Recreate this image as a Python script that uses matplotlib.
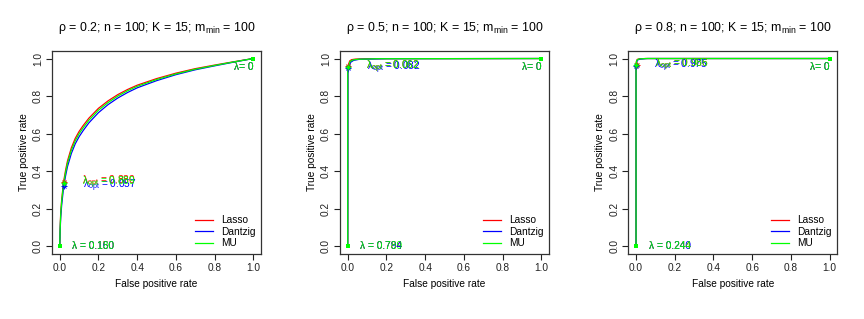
import matplotlib
matplotlib.use("Agg")
import matplotlib.pyplot as plt
import numpy as np

plt.rcParams['font.family'] = ['Liberation Sans', 'DejaVu Sans']
plt.rcParams['mathtext.fontset'] = 'custom'
plt.rcParams['mathtext.rm'] = 'Liberation Sans'
plt.rcParams['mathtext.it'] = 'Liberation Sans:italic'

methods = ["Lasso", "Dantzig", "MU"]
colors = ["#FF0000", "#0000FF", "#00FF00"]
titles = ["ρ = 0.2; n = 100; K = 15; m$_{\\mathrm{min}}$ = 100",
          "ρ = 0.5; n = 100; K = 15; m$_{\\mathrm{min}}$ = 100",
          "ρ = 0.8; n = 100; K = 15; m$_{\\mathrm{min}}$ = 100"]

# ROC curves (FPR, TPR) per panel per method
p1_fpr_lasso = [0, 0.002, 0.005, 0.01, 0.02, 0.03, 0.04, 0.06, 0.08, 0.10, 0.12, 0.15, 0.20, 0.25, 0.30, 0.35, 0.40, 0.50, 0.60, 0.70, 0.80, 0.90, 1.0]
p1_tpr_lasso = [0, 0.10, 0.18, 0.25, 0.345, 0.405, 0.455, 0.525, 0.575, 0.612, 0.642, 0.682, 0.735, 0.775, 0.808, 0.835, 0.858, 0.893, 0.922, 0.946, 0.965, 0.983, 1.0]
p1_fpr_dantzig = p1_fpr_lasso
p1_tpr_dantzig = [0, 0.08, 0.155, 0.22, 0.315, 0.375, 0.425, 0.495, 0.546, 0.584, 0.615, 0.657, 0.712, 0.755, 0.790, 0.819, 0.844, 0.882, 0.914, 0.940, 0.961, 0.981, 1.0]
p1_fpr_mu = p1_fpr_lasso
p1_tpr_mu = [0, 0.09, 0.17, 0.24, 0.335, 0.393, 0.443, 0.512, 0.562, 0.600, 0.630, 0.671, 0.725, 0.766, 0.800, 0.828, 0.852, 0.888, 0.918, 0.943, 0.963, 0.982, 1.0]

p2_fpr_lasso = [0, 0.0, 0.003, 0.01, 0.02, 0.04, 0.10, 1.0]
p2_tpr_lasso = [0, 0.93, 0.965, 0.987, 0.994, 0.997, 0.999, 1.0]
p2_fpr_dantzig = [0, 0.001, 0.006, 0.015, 0.03, 0.06, 0.20, 1.0]
p2_tpr_dantzig = [0, 0.92, 0.955, 0.980, 0.990, 0.996, 0.999, 1.0]
p2_fpr_mu = [0, 0.0, 0.004, 0.012, 0.025, 0.05, 0.15, 1.0]
p2_tpr_mu = [0, 0.925, 0.96, 0.984, 0.992, 0.996, 0.999, 1.0]

p3_fpr_lasso = [0, 0.0, 0.002, 0.006, 0.015, 0.05, 1.0]
p3_tpr_lasso = [0, 0.97, 0.985, 0.995, 0.998, 1.0, 1.0]
p3_fpr_dantzig = [0, 0.0, 0.003, 0.008, 0.02, 0.06, 1.0]
p3_tpr_dantzig = [0, 0.96, 0.980, 0.992, 0.997, 1.0, 1.0]
p3_fpr_mu = [0, 0.0, 0.002, 0.007, 0.018, 0.05, 1.0]
p3_tpr_mu = [0, 0.965, 0.983, 0.994, 0.998, 1.0, 1.0]

# optimal points and labels
p1_opt_x = [0.02, 0.024, 0.02]
p1_opt_y = [0.345, 0.322, 0.338]
p1_opt_lab = ["0.880", "0.057", "0.889"]
p1_min_lab = ["0.150", "0.160", "0.180"]

p2_opt_x = [0.0, 0.002, 0.001]
p2_opt_y = [0.958, 0.952, 0.955]
p2_opt_lab = ["0.062", "0.082", "0.062"]
p2_min_lab = ["0.784", "0.794", "0.789"]

p3_opt_x = [0.003, 0.0, 0.001]
p3_opt_y = [0.968, 0.960, 0.964]
p3_opt_lab = ["0.986", "0.975", "0.986"]
p3_min_lab = ["0.244", "0.240", "0.244"]

panels = [
    ([(p1_fpr_lasso, p1_tpr_lasso), (p1_fpr_dantzig, p1_tpr_dantzig), (p1_fpr_mu, p1_tpr_mu)], p1_opt_x, p1_opt_y, p1_opt_lab, p1_min_lab),
    ([(p2_fpr_lasso, p2_tpr_lasso), (p2_fpr_dantzig, p2_tpr_dantzig), (p2_fpr_mu, p2_tpr_mu)], p2_opt_x, p2_opt_y, p2_opt_lab, p2_min_lab),
    ([(p3_fpr_lasso, p3_tpr_lasso), (p3_fpr_dantzig, p3_tpr_dantzig), (p3_fpr_mu, p3_tpr_mu)], p3_opt_x, p3_opt_y, p3_opt_lab, p3_min_lab),
]

fig = plt.figure(figsize=(8.64, 3.19), dpi=100)
lefts = [52 / 864, 340 / 864, 628.3 / 864]
fs = 7.3

for i, (curves, ox, oy, olab, mlab) in enumerate(panels):
    ax = fig.add_axes([lefts[i], 1 - 254 / 319, 209 / 864, 203 / 319])
    for (fx, ty), c, m in zip(curves, colors, methods):
        ax.plot(fx, ty, color=c, lw=0.9, label=m)
    for (fx, ty), c in zip(curves, colors):
        ax.plot([fx[0], fx[-1]], [ty[0], ty[-1]], ls='none', marker='s', ms=2.2, mew=0, color=c)
    for k, c in enumerate(colors):
        ax.plot(ox[k], oy[k], marker='+', ms=5, mew=0.7, color=c, ls='none')
        ax.plot(ox[k], oy[k], marker='x', ms=3.5, mew=0.7, color=c, ls='none')
        ax.text(ox[k] + 0.095, oy[k], "λ$_{\\mathrm{opt}}$ = " + olab[k], color=c,
                fontsize=fs, ha='left', va='center')
        ax.text(curves[k][0][0] + 0.065, curves[k][1][0], "λ = " + mlab[k], color=c,
                fontsize=fs, ha='left', va='center')
        ax.text(curves[k][0][-1], curves[k][1][-1] - 0.045, "λ= 0", color=c,
                fontsize=fs, ha='right', va='center')
    ax.set_xlim(-0.04, 1.04)
    ax.set_ylim(-0.04, 1.04)
    ticks = [0.0, 0.2, 0.4, 0.6, 0.8, 1.0]
    ax.set_xticks(ticks)
    ax.set_yticks(ticks)
    ax.set_xticklabels([f"{t:.1f}" for t in ticks])
    ax.set_yticklabels([f"{t:.1f}" for t in ticks], rotation=90, va='center')
    ax.tick_params(length=4, width=0.8, labelsize=fs, pad=2.5, colors='#222222')
    for s in ax.spines.values():
        s.set_linewidth(0.9)
        s.set_color('#333333')
    ax.set_xlabel("False positive rate", fontsize=fs, labelpad=4)
    ax.set_ylabel("True positive rate", fontsize=fs, labelpad=3)
    ax.set_title(titles[i], fontsize=8.9, pad=14.5)
    leg = ax.legend(loc='lower right', frameon=False, fontsize=fs,
                    handlelength=1.8, handletextpad=0.8, labelspacing=0.15,
                    borderaxespad=0.15, bbox_to_anchor=(1.0, 0.0))

fig.savefig("out.png", dpi=100)
